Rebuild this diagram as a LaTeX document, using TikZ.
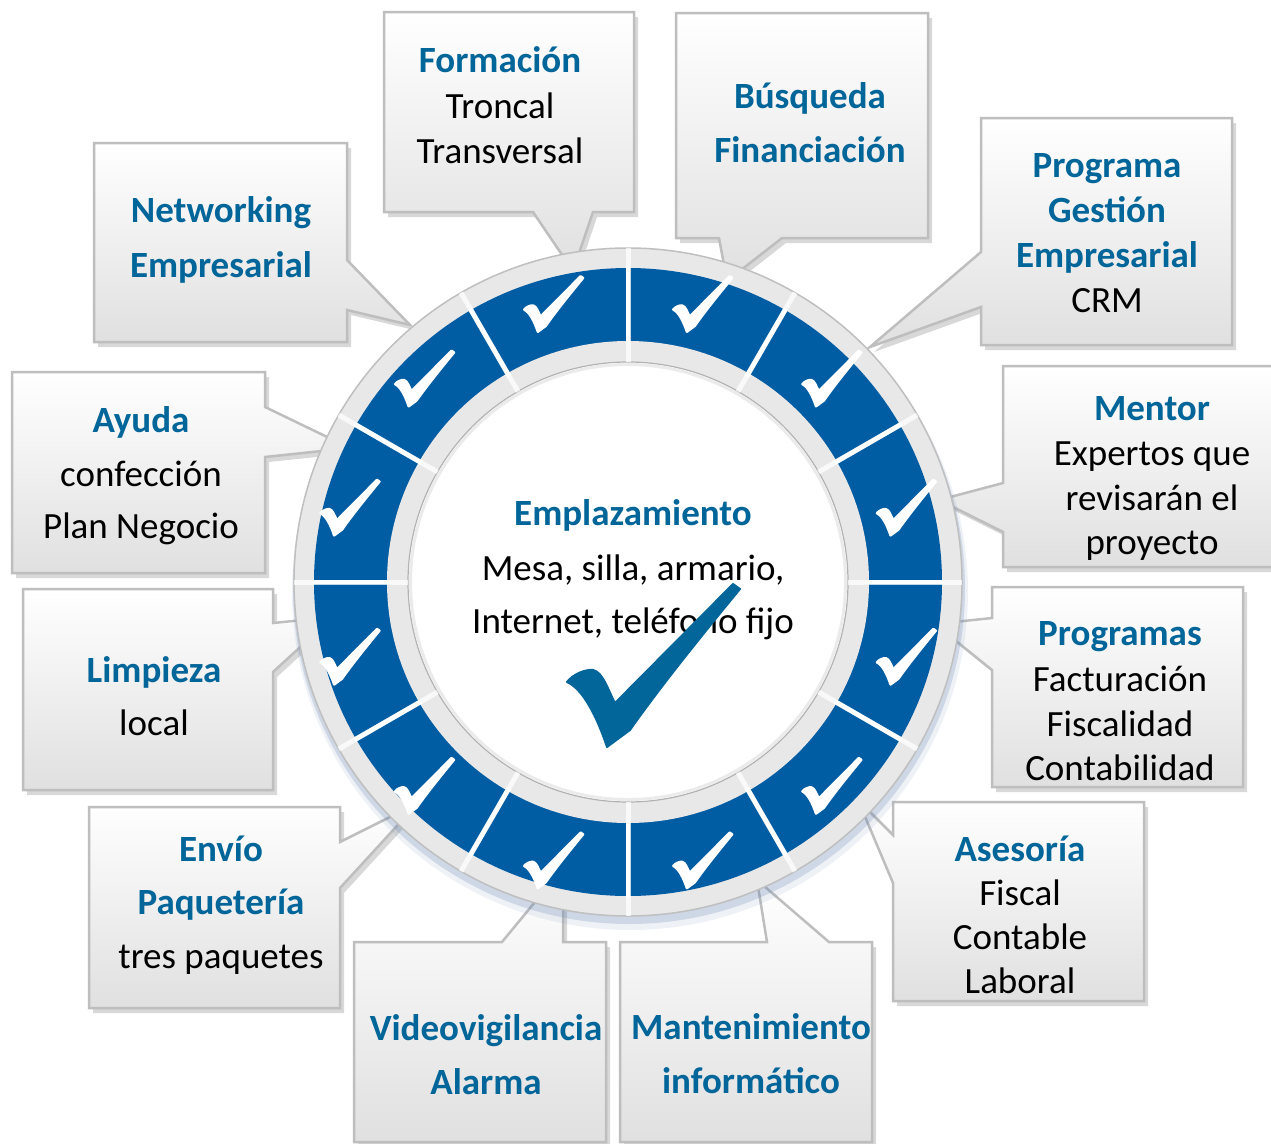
\documentclass[tikz,border=0pt]{standalone}
\usepackage{fontspec}
\setmainfont{Carlito}
\usetikzlibrary{shadows}
\definecolor{hblue}{RGB}{0,101,153}
\definecolor{ringblue}{RGB}{0,92,163}
\definecolor{chkblue}{RGB}{3,102,154}
\definecolor{cborder}{RGB}{190,190,190}
\definecolor{cbot}{RGB}{224,224,224}
\definecolor{rgray}{RGB}{232,232,232}
\definecolor{rshadow}{RGB}{95,125,172}
\tikzset{
  chk/.pic={\path[pic actions] (-86,17) .. controls (-80,9) and (-67,4) .. (-60,5)
      .. controls (-50,7) and (-45,25) .. (-38,38) -- (80,-81) -- (87,-76)
      .. controls (45,-25) and (5,25) .. (-23,65) -- (-46,82)
      .. controls (-56,52) and (-70,24) .. cycle;},
  callout/.style={draw=cborder, line width=2.5pt, line join=miter, top color=white, bottom color=cbot,
      drop shadow={shadow xshift=4pt, shadow yshift=-5pt, opacity=.28, fill=black!55}},
  hd/.style={font=\fontsize{37}{44}\selectfont\bfseries, text=hblue, inner sep=0pt, anchor=base},
  tx/.style={font=\fontsize{37}{44}\selectfont, text=black, inner sep=0pt, anchor=base},
}
\begin{document}
\begin{tikzpicture}[x=1pt,y=-1pt]
\useasboundingbox (0,0) rectangle (1271,1143);
\fill[white] (0,0) rectangle (1271,1143);

% callouts
\path[callout] (94,143) -- (347,143) -- (347,260) -- (410,325) -- (347,310) -- (347,342) -- (94,342) -- cycle;
\path[callout] (384,12) -- (634,12) -- (634,212) -- (593,212) -- (573,271) -- (533,212) -- (384,212) -- cycle;
\path[callout] (676,13) -- (928,13) -- (928,238) -- (782,238) -- (727,281) -- (719,238) -- (676,238) -- cycle;
\path[callout] (981,118) -- (1232,118) -- (1232,345) -- (981,345) -- (981,307) -- (870,347) -- (981,252) -- cycle;
\path[callout] (1003,366) -- (1301,366) -- (1301,567) -- (1003,567) -- (1003,532) -- (939,500) -- (1003,483) -- cycle;
\path[callout] (992,587) -- (1243,587) -- (1243,787) -- (992,787) -- (992,670) -- (935,624) -- (992,618) -- cycle;
\path[callout] (893,802) -- (1144,802) -- (1144,1001) -- (893,1001) -- (893,883) -- (858,800) -- (893,835) -- cycle;
\path[callout] (620,942) -- (767,942) -- (757,880) -- (829,942) -- (872,942) -- (872,1142) -- (620,1142) -- cycle;
\path[callout] (354,942) -- (502,942) -- (563,868) -- (563,942) -- (606,942) -- (606,1142) -- (354,1142) -- cycle;
\path[callout] (89,807) -- (340,807) -- (340,842) -- (418,803) -- (340,888) -- (340,1008) -- (89,1008) -- cycle;
\path[callout] (23,589) -- (273,589) -- (273,623) -- (333,617) -- (273,672) -- (273,790) -- (23,790) -- cycle;
\path[callout] (12,372) -- (265,372) -- (265,407) -- (350,448) -- (265,457) -- (265,573) -- (12,573) -- cycle;

% ring
\begin{scope}[shift={(628,582)}]
  \fill[rshadow, opacity=.10] (2,10) circle (338);
  \fill[rshadow, opacity=.22] (1,6) circle (336);
  \draw[draw=black!25, fill=rgray, line width=1.5pt] (0,0) circle (334);
  \fill[ringblue] (0,0) circle (314);
  \fill[rgray] (0,0) circle (241);
  \fill[white] (0,0) circle (220);
  \draw[black!30, line width=1.2pt] (0,0) circle (220);
  \draw[black!8, line width=3pt] (0,0) circle (217.5);
  \foreach \a in {0,30,...,330} {
    \draw[white, opacity=.75, line width=5pt] (\a:220) -- (\a:334);
    \draw[white, line width=4.5pt] (\a:238) -- (\a:316);
  }
  \foreach \a in {15,45,...,345} \pic[fill=white, draw=white, line width=2.5pt, line join=round, scale=.34] at (\a:288) {chk};
\end{scope}

% texts
\node[hd] (net1) at (221,222) {Networking};
\node[hd] (net2) at (221,277) {Empresarial};

\node[hd] (for1) at (500,72) {Formación};
\node[tx] (for2) at (500,118) {Troncal};
\node[tx] (for3) at (500,163) {Transversal};

\node[hd] (bus1) at (810,108) {Búsqueda};
\node[hd] (bus2) at (810,162) {Financiación};

\node[hd] (pge1) at (1107,177) {Programa};
\node[hd] (pge2) at (1107,222) {Gestión};
\node[hd] (pge3) at (1107,267) {Empresarial};
\node[tx] (pge4) at (1107,312) {CRM};

\node[hd] (men1) at (1152,420) {Mentor};
\node[tx] (men2) at (1152,465) {Expertos que};
\node[tx] (men3) at (1152,510) {revisarán el};
\node[tx] (men4) at (1152,554) {proyecto};

\node[hd] (prg1) at (1120,645) {Programas};
\node[tx] (prg2) at (1120,691) {Facturación};
\node[tx] (prg3) at (1120,736) {Fiscalidad};
\node[tx] (prg4) at (1120,780) {Contabilidad};

\node[hd] (ase1) at (1020,861) {Asesoría};
\node[tx] (ase2) at (1020,905) {Fiscal};
\node[tx] (ase3) at (1020,949) {Contable};
\node[tx] (ase4) at (1020,993) {Laboral};

\node[hd] (man1) at (751,1039) {Mantenimiento};
\node[hd] (man2) at (751,1093) {informático};

\node[hd] (vid1) at (486,1040) {Videovigilancia};
\node[hd] (vid2) at (486,1094) {Alarma};

\node[hd] (env1) at (221,861) {Envío};
\node[hd] (env2) at (221,914) {Paquetería};
\node[tx] (env3) at (221,968) {tres paquetes};

\node[hd] (lim1) at (154,682) {Limpieza};
\node[tx] (lim2) at (154,735) {local};

\node[hd] (ayu1) at (141,432) {Ayuda};
\node[tx] (ayu2) at (141,486) {confección};
\node[tx] (ayu3) at (141,538) {Plan Negocio};

\node[hd] (emp1) at (633,525) {Emplazamiento};
\node[tx] (emp2) at (633,580) {Mesa, silla, armario,};
\node[tx] (emp3) at (633,633) {Internet, teléfono fijo};

% big check
\pic[fill=chkblue, draw=chkblue, line width=2pt, line join=round] at (653,665) {chk};
\end{tikzpicture}
\end{document}
